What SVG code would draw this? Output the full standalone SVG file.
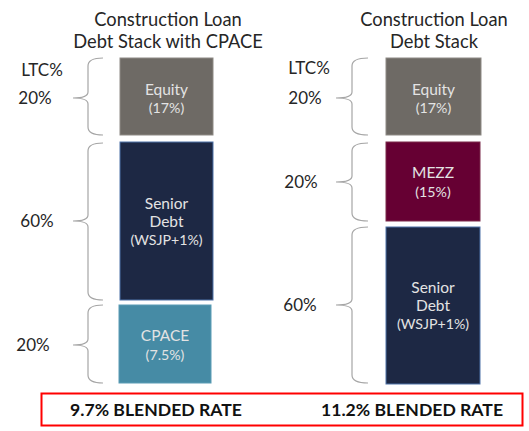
<svg xmlns="http://www.w3.org/2000/svg" width="529" height="431" viewBox="0 0 529 431">
<style>
.title{font-family:Lato,"Open Sans",sans-serif;font-size:18.3px;fill:#262626;text-anchor:middle}
.pct{font-family:Lato,"Open Sans",sans-serif;font-size:17px;fill:#262626;text-anchor:middle}
.lbl{font-family:Lato,"Open Sans",sans-serif;font-size:15.5px;fill:#e3e3e3;text-anchor:middle}
.sub{font-family:Lato,"Open Sans",sans-serif;font-size:14.2px;fill:#e3e3e3;text-anchor:middle}
.brace{fill:none;stroke:#a6a6a6;stroke-width:1.2}
.rate{font-family:Lato,"Open Sans",sans-serif;font-size:17.6px;font-weight:bold;fill:#111;text-anchor:middle}
</style>
<rect width="529" height="431" fill="#fff"/>
<g id="titles">
<text class="title" x="168" y="26">Construction Loan</text>
<text class="title" x="168" y="48">Debt Stack with CPACE</text>
<text class="title" x="434" y="26">Construction Loan</text>
<text class="title" x="434" y="48">Debt Stack</text>
</g>
<g id="ltc-labels">
<text class="pct" x="42" y="76">LTC%</text>
<text class="pct" x="35" y="104">20%</text>
<text class="pct" x="37" y="227">60%</text>
<text class="pct" x="33" y="351">20%</text>
<text class="pct" x="309" y="74">LTC%</text>
<text class="pct" x="305" y="104">20%</text>
<text class="pct" x="301" y="188">20%</text>
<text class="pct" x="300" y="311">60%</text>
</g>
<g id="connectors">
<path class="brace" d="M103,58 Q88,58 88,66 L88,92 Q88,98 73,98 Q88,98 88,104 L88,127 Q88,135 103,135"/>
<path class="brace" d="M103,143 Q88,143 88,151 L88,215 Q88,221 73,221 Q88,221 88,227 L88,292 Q88,300 103,300"/>
<path class="brace" d="M103,305 Q88,305 88,313 L88,339 Q88,345 73,345 Q88,345 88,351 L88,375 Q88,383 103,383"/>
<path class="brace" d="M368,58 Q352,58 352,66 L352,92 Q352,98 336,98 Q352,98 352,104 L352,127 Q352,135 368,135"/>
<path class="brace" d="M368,143 Q352,143 352,151 L352,176 Q352,182 336,182 Q352,182 352,188 L352,213 Q352,221 368,221"/>
<path class="brace" d="M368,227 Q352,227 352,235 L352,299 Q352,305 336,305 Q352,305 352,311 L352,375 Q352,383 368,383"/>
</g>
<g id="left-equity">
<rect x="120" y="58" width="93" height="77" fill="#6e6a65" stroke="#8e8a85" stroke-width="1"/>
<text class="lbl" x="166.5" y="95">Equity</text>
<text class="sub" x="166.5" y="113">(17%)</text>
</g>
<g id="left-senior">
<rect x="120" y="142" width="93" height="158" fill="#1d2844" stroke="#4f72a8" stroke-width="1"/>
<text class="lbl" x="166.5" y="209">Senior</text>
<text class="lbl" x="166.5" y="227">Debt</text>
<text class="sub" x="166.5" y="245">(WSJP+1%)</text>
</g>
<g id="left-cpace">
<rect x="119" y="305" width="92" height="78" fill="#468ba5" stroke="#5a9cb5" stroke-width="1"/>
<text class="lbl" x="165" y="341">CPACE</text>
<text class="sub" x="165" y="360">(7.5%)</text>
</g>
<g id="right-equity">
<rect x="386" y="58" width="95" height="77" fill="#6e6a65" stroke="#8e8a85" stroke-width="1"/>
<text class="lbl" x="433.5" y="95">Equity</text>
<text class="sub" x="433.5" y="113">(17%)</text>
</g>
<g id="right-mezz">
<rect x="386" y="142" width="94" height="79" fill="#660033" stroke="#7a2a4a" stroke-width="1"/>
<text class="lbl" x="433" y="178">MEZZ</text>
<text class="sub" x="433" y="197">(15%)</text>
</g>
<g id="right-senior">
<rect x="386" y="227" width="94" height="157" fill="#1d2844" stroke="#4f72a8" stroke-width="1"/>
<text class="lbl" x="433" y="293">Senior</text>
<text class="lbl" x="433" y="311">Debt</text>
<text class="sub" x="433" y="329">(WSJP+1%)</text>
</g>
<g id="blended">
<rect x="41.5" y="393.5" width="481" height="32" fill="#fff" stroke="#ff0000" stroke-width="2"/>
<text class="rate" x="156" y="416">9.7% BLENDED RATE</text>
<text class="rate" x="412" y="416">11.2% BLENDED RATE</text>
</g>
</svg>
